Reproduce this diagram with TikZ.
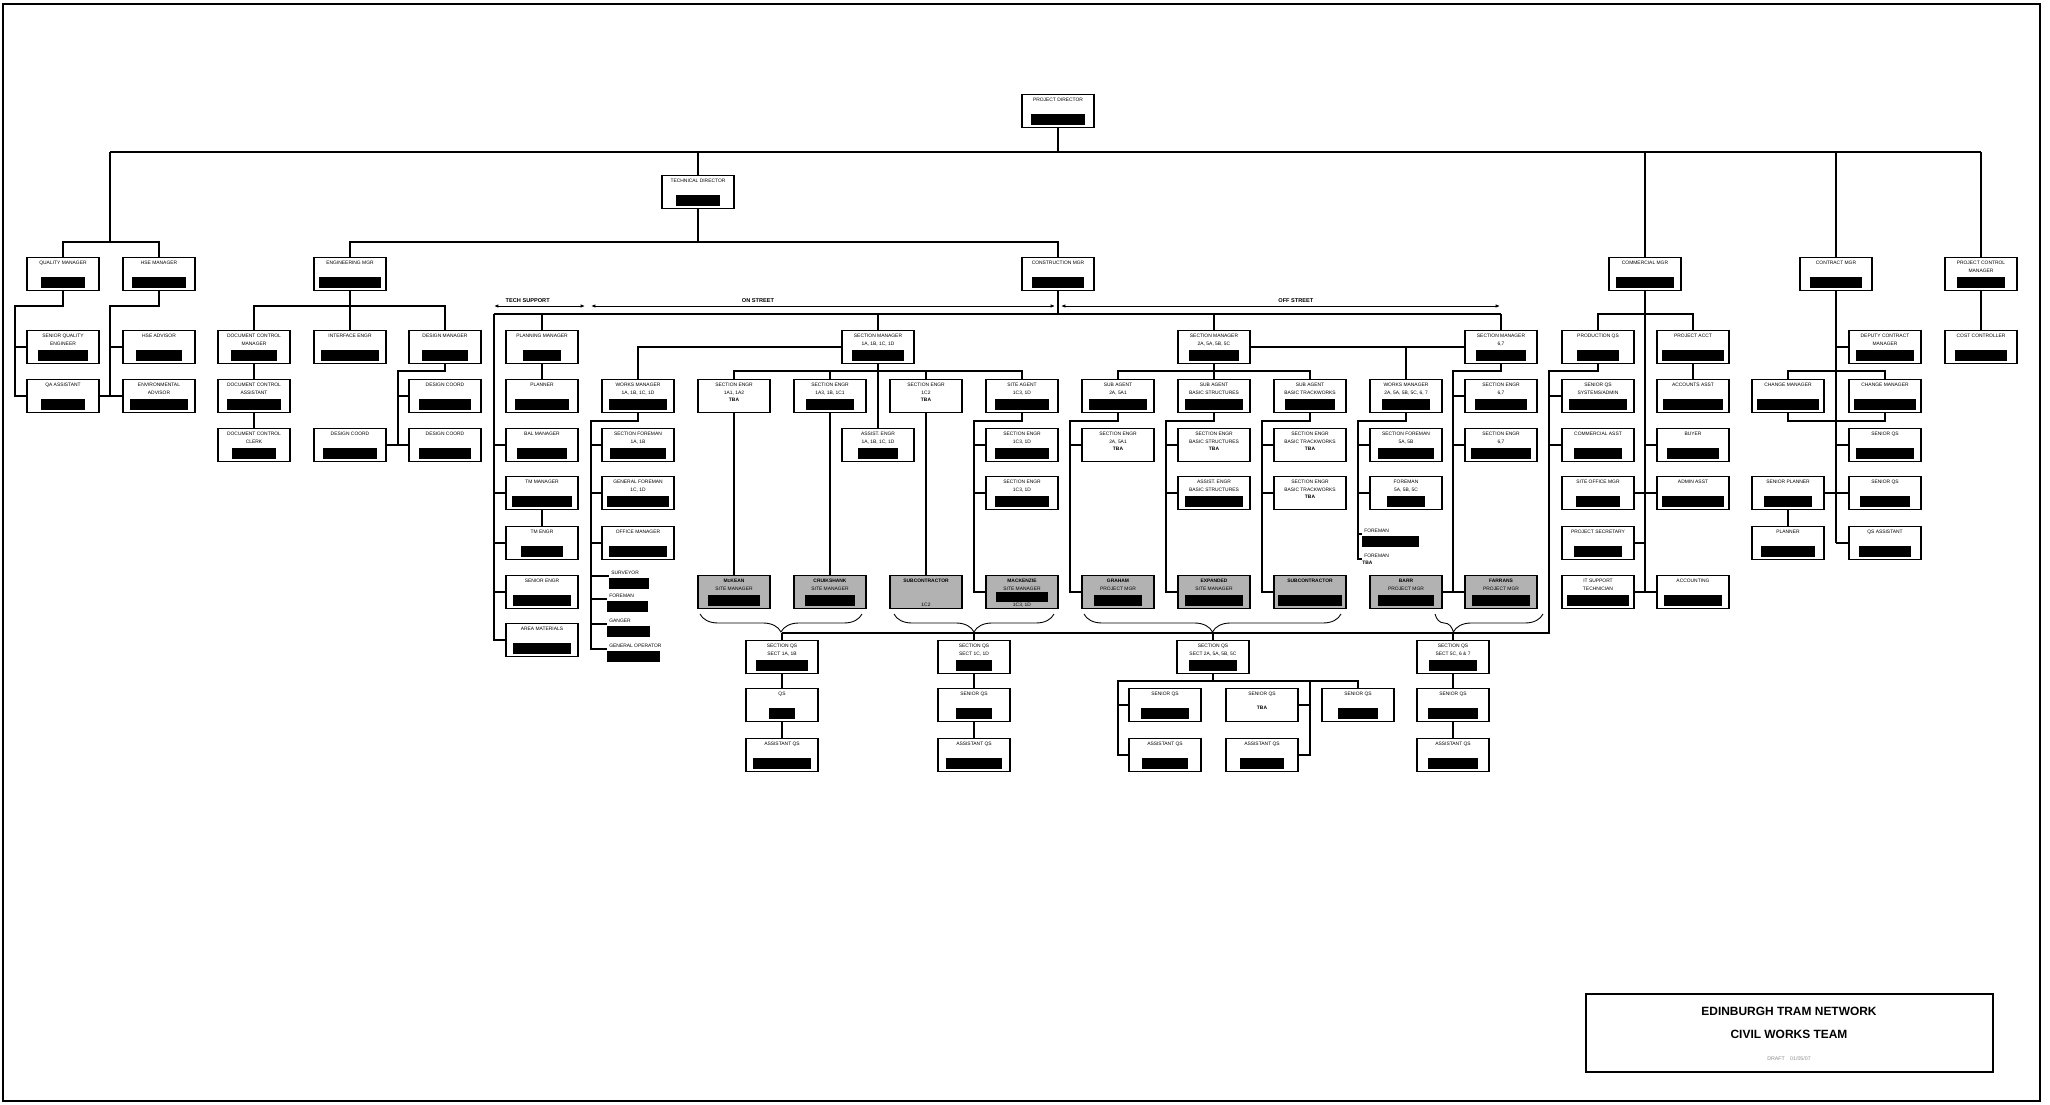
\documentclass[tikz,border=0pt]{standalone}
\usepackage{fontspec}
\setmainfont{Liberation Sans}
\usetikzlibrary{arrows.meta,decorations.pathreplacing}

\tikzset{
  postbox/.style={draw,line width=1pt,minimum width=1.44cm,minimum height=0.66cm,inner sep=0pt},
  firm/.style={postbox,fill=black!30},
  txt/.style={font=\fontsize{2.8}{4.4}\selectfont,align=center,inner sep=0pt},
  wire/.style={line width=0.6pt},
  spanarr/.style={line width=0.5pt,{Latex[length=2.5pt,width=2pt]}-{Latex[length=2.5pt,width=2pt]}},
  zonelbl/.style={font=\bfseries\fontsize{3.2}{4}\selectfont,inner sep=0pt,anchor=south,yshift=0.07cm},
  brc/.style={line width=0.5pt,decorate,decoration={brace,mirror,amplitude=0.36cm}},
}

% box: title at the top, black bar near the bottom (bar width in px, empty = none)
\newcommand{\role}[5][postbox]{%
  \node[#1] (#2) at (#3) {};
  \node[txt,anchor=north] (#2-t) at ([yshift=-0.08cm]#2.north) {#4};
  \ifx&#5&\else
    \fill ([xshift=-#5*0.01cm,yshift=0.06cm]#2.south) rectangle ([xshift=#5*0.01cm,yshift=0.28cm]#2.south);
  \fi}
% crew without a box: line ends at the coordinate, title above, bar below
\newcommand{\crew}[4]{%
  \coordinate (#1) at (#2);
  \node[txt,anchor=south west] (#1-t) at ([xshift=0.04cm,yshift=0.02cm]#1) {#3};
  \fill ([yshift=-0.03cm]#1) rectangle ++(#4,11);}

\begin{document}
\begin{tikzpicture}[x=0.02cm,y=-0.02cm]
\useasboundingbox (0,0) rectangle (2050,1105);
\draw[line width=1pt] (3,4) rectangle (2040,1101);

% directors and managers
\role{pd}{1058,111}{PROJECT DIRECTOR}{54}
\role{td}{698,192}{TECHNICAL DIRECTOR}{45}
\role{qm}{63,274}{QUALITY MANAGER}{44}
\role{hs}{159,274}{HSE MANAGER}{54}
\role{em}{350,274}{ENGINEERING MGR}{63}
\role{cm}{1058,274}{CONSTRUCTION MGR}{52}
\role{com}{1645,274}{COMMERCIAL MGR}{58}
\role{con}{1836,274}{CONTRACT MGR}{52}
\role{pcm}{1981,274}{PROJECT CONTROL\\MANAGER}{48}

% quality, safety
\role{sqe}{63,347}{SENIOR QUALITY\\ENGINEER}{51}
\role{qaa}{63,396}{QA ASSISTANT}{44}
\role{hsa}{159,347}{HSE ADVISOR}{47}
\role{env}{159,396}{ENVIRONMENTAL\\ADVISOR}{59}

% engineering
\role{dcm}{254,347}{DOCUMENT CONTROL\\MANAGER}{47}
\role{dca}{254,396}{DOCUMENT CONTROL\\ASSISTANT}{54}
\role{dcc}{254,445}{DOCUMENT CONTROL\\CLERK}{44}
\role{ie}{350,347}{INTERFACE ENGR}{58}
\role{dm}{445,347}{DESIGN MANAGER}{47}
\role{dc1}{445,396}{DESIGN COORD}{53}
\role{dc2}{445,445}{DESIGN COORD}{52}
\role{dc3}{350,445}{DESIGN COORD}{54}

% tech support
\role{plm}{542,347}{PLANNING MANAGER}{39}
\role{pln}{542,396}{PLANNER}{54}
\role{bal}{542,445}{BAL MANAGER}{51}
\role{tmm}{542,493}{TM MANAGER}{61}
\role{tme}{542,543}{TM ENGR}{43}
\role{sen}{542,592}{SENIOR ENGR}{58}
\role{arm}{542,640}{AREA MATERIALS}{58}

% on street
\role{smon}{878,347}{SECTION MANAGER\\1A, 1B, 1C, 1D}{53}
\role{wm}{638,396}{WORKS MANAGER\\1A, 1B, 1C, 1D}{58}
\role{sf}{638,445}{SECTION FOREMAN\\1A, 1B}{57}
\role{gf}{638,493}{GENERAL FOREMAN\\1C, 1D}{62}
\role{om}{638,543}{OFFICE MANAGER}{59}
\crew{sv}{609,576}{SURVEYOR}{40}
\crew{fo}{607,599}{FOREMAN}{41}
\crew{gg}{607,624}{GANGER}{43}
\crew{go}{607,649}{GENERAL OPERATOR}{53}
\role{se1}{734,396}{SECTION ENGR\\1A1, 1A2\\\textbf{TBA}}{}
\role{se2}{830,396}{SECTION ENGR\\1A3, 1B, 1C1}{49}
\role{se3}{926,396}{SECTION ENGR\\1C2\\\textbf{TBA}}{}
\role{sa}{1022,396}{SITE AGENT\\1C3, 1D}{55}
\role{ae}{878,445}{ASSIST. ENGR\\1A, 1B, 1C, 1D}{40}
\role{se4}{1022,445}{SECTION ENGR\\1C3, 1D}{55}
\role{se5}{1022,493}{SECTION ENGR\\1C3, 1D}{55}
\role[firm]{mck}{734,592}{\textbf{McKEAN}\\SITE MANAGER}{52}
\role[firm]{cru}{830,592}{\textbf{CRUIKSHANK}\\SITE MANAGER}{50}
\role[firm]{sub1}{926,592}{\textbf{SUBCONTRACTOR}}{}
\node[txt,anchor=south] (sub1-n) at ([yshift=0.05cm]sub1.south) {1C2};
\role[firm]{mac}{1022,592}{\textbf{MACKENZIE}\\SITE MANAGER}{}
\fill ([xshift=-0.52cm,yshift=0.15cm]mac.south) rectangle ([xshift=0.52cm,yshift=0.34cm]mac.south);
\node[txt,anchor=south] (mac-n) at ([yshift=0.04cm]mac.south) {1C3, 1D};

% off street
\role{smoff}{1214,347}{SECTION MANAGER\\2A, 5A, 5B, 5C}{50}
\role{sm67}{1501,347}{SECTION MANAGER\\6,7}{50}
\role{sa1}{1118,396}{SUB AGENT\\2A, 5A1}{58}
\role{sa2}{1214,396}{SUB AGENT\\BASIC STRUCTURES}{59}
\role{sa3}{1310,396}{SUB AGENT\\BASIC TRACKWORKS}{51}
\role{wm2}{1406,396}{WORKS MANAGER\\2A, 5A, 5B, 5C, 6, 7}{49}
\role{se10}{1501,396}{SECTION ENGR\\6,7}{52}
\role{se6}{1118,445}{SECTION ENGR\\2A, 5A1\\\textbf{TBA}}{}
\role{se7}{1214,445}{SECTION ENGR\\BASIC STRUCTURES\\\textbf{TBA}}{}
\role{ae2}{1214,493}{ASSIST. ENGR\\BASIC STRUCTURES}{59}
\role{se8}{1310,445}{SECTION ENGR\\BASIC TRACKWORKS\\\textbf{TBA}}{}
\role{se9}{1310,493}{SECTION ENGR\\BASIC TRACKWORKS\\\textbf{TBA}}{}
\role{sf2}{1406,445}{SECTION FOREMAN\\5A, 5B}{56}
\role{fm2}{1406,493}{FOREMAN\\5A, 5B, 5C}{38}
\crew{fo1}{1362,534}{FOREMAN}{57}
\coordinate (fo2) at (1362,559);
\node[txt,anchor=south west] (fo2-t) at ([xshift=0.04cm,yshift=0.02cm]fo2) {FOREMAN};
\node[txt,anchor=north west] (fo2-n) at ([yshift=-0.04cm]fo2) {\textbf{TBA}};
\role{se11}{1501,445}{SECTION ENGR\\6,7}{60}
\role[firm]{gra}{1118,592}{\textbf{GRAHAM}\\PROJECT MGR}{48}
\role[firm]{exp}{1214,592}{\textbf{EXPANDED}\\SITE MANAGER}{59}
\role[firm]{sub2}{1310,592}{\textbf{SUBCONTRACTOR}}{65}
\role[firm]{barr}{1406,592}{\textbf{BARR}\\PROJECT MGR}{57}
\role[firm]{far}{1501,592}{\textbf{FARRANS}\\PROJECT MGR}{58}

% commercial
\role{pqs}{1598,347}{PRODUCTION QS}{42}
\role{pac}{1693,347}{PROJECT ACCT}{63}
\role{sqs}{1598,396}{SENIOR QS\\SYSTEMS/ADMIN}{58}
\role{aas}{1693,396}{ACCOUNTS ASST}{60}
\role{cas}{1598,445}{COMMERCIAL ASST}{48}
\role{buy}{1693,445}{BUYER}{52}
\role{som}{1598,493}{SITE OFFICE MGR}{44}
\role{adm}{1693,493}{ADMIN ASST}{63}
\role{pse}{1598,543}{PROJECT SECRETARY}{49}
\role{its}{1598,592}{IT SUPPORT\\TECHNICIAN}{63}
\role{qsu}{1693,592}{ACCOUNTING}{59}

% contract, controls
\role{dcm2}{1885,347}{DEPUTY CONTRACT\\MANAGER}{58}
\role{chm1}{1788,396}{CHANGE MANAGER}{62}
\role{chm2}{1885,396}{CHANGE MANAGER}{63}
\role{sqs2}{1885,445}{SENIOR QS}{58}
\role{spl}{1788,493}{SENIOR PLANNER}{48}
\role{sqs3}{1885,493}{SENIOR QS}{50}
\role{pln2}{1788,543}{PLANNER}{55}
\role{qsa}{1885,543}{QS ASSISTANT}{53}
\role{cc}{1981,347}{COST CONTROLLER}{53}

% section QS
\role{qs1}{782,657}{SECTION QS\\SECT 1A, 1B}{53}
\role{qs1b}{782,705}{QS}{27}
\role{qs1c}{782,755}{ASSISTANT QS}{58}
\role{qs2}{974,657}{SECTION QS\\SECT 1C, 1D}{36}
\role{qs2b}{974,705}{SENIOR QS}{37}
\role{qs2c}{974,755}{ASSISTANT QS}{56}
\role{qs3}{1213,657}{SECTION QS\\SECT 2A, 5A, 5B, 5C}{49}
\role{sq3a}{1165,705}{SENIOR QS}{48}
\role{sq3b}{1262,705}{SENIOR QS\\[0.12cm]\textbf{TBA}}{}
\role{sq3c}{1358,705}{SENIOR QS}{41}
\role{aq3a}{1165,755}{ASSISTANT QS}{46}
\role{aq3b}{1262,755}{ASSISTANT QS}{45}
\role{qs4}{1453,657}{SECTION QS\\SECT 5C, 6 \& 7}{49}
\role{qs4b}{1453,705}{SENIOR QS}{51}
\role{qs4c}{1453,755}{ASSISTANT QS}{51}

% top lines
\coordinate (t0) at (110,152); \coordinate (t1) at (1981,152);
\coordinate (tq) at (110,242); \coordinate (tb) at (698,242);
\draw[wire] (t0) -- (t1);
\foreach \n in {pd,td,com,con,pcm} \draw[wire] (\n) -- (\n |- t0);
\draw[wire] (t0) -- (tq);
\draw[wire] (qm) |- (tq) -| (hs);
\draw[wire] (td) -- (tb);
\draw[wire] (em) |- (tb) -| (cm);

% quality and safety
\coordinate (kq) at (15,306); \coordinate (kh) at (110,306);
\draw[wire] (qm) |- (kq) |- (qaa);
\draw[wire] (sqe -| kq) -- (sqe);
\draw[wire] (hs) |- (kh) |- (env);
\draw[wire] (hsa -| kh) -- (hsa);
\draw[wire] (qaa) -- (qaa -| kh);

% engineering
\coordinate (ke) at (350,306); \coordinate (kd) at (398,371);
\draw[wire] (dcm) |- (ke) -| (dm);
\draw[wire] (em) -- (ie);
\draw[wire] (dcm) -- (dca) -- (dcc);
\draw[wire] (dm) |- (kd) |- (dc2);
\draw[wire] (dc1 -| kd) -- (dc1);
\draw[wire] (dc3) -- (dc3 -| kd);

% construction
\coordinate (c0) at (494,314); \coordinate (c1) at (1501,314);
\draw[wire] (cm) -- (cm |- c0);
\draw[wire] (c0) -- (c1);
\foreach \n in {plm,smon,smoff,sm67} \draw[wire] (\n) -- (\n |- c0);
\draw[wire] (c0) |- (arm);
\foreach \n in {bal,tmm,tme,sen} \draw[wire] (\n -| c0) -- (\n);
\draw[wire] (plm) -- (pln);
\draw[wire] (tmm) -- (tme);
\draw[spanarr] (494,306) -- node[zonelbl,pos=0.37] (zts) {TECH SUPPORT} (585,306);
\draw[spanarr] (591,306) -- node[zonelbl,pos=0.36] (zon) {ON STREET} (1055,306);
\draw[spanarr] (1061,306) -- node[zonelbl,pos=0.535] (zoff) {OFF STREET} (1500,306);

% on street
\coordinate (kw) at (591,421); \coordinate (ks) at (878,371); \coordinate (ka) at (974,421);
\draw[wire] (smon) -| (wm);
\draw[wire] (wm) |- (kw) |- (go);
\foreach \n in {sf,gf,om,sv,fo,gg} \draw[wire] (\n -| kw) -- (\n);
\draw[wire] (smon) -- (ae);
\draw[wire] (se1) |- (ks) -| (sa);
\draw[wire] (se2) -- (se2 |- ks);
\draw[wire] (se3) -- (se3 |- ks);
\draw[wire] (se1) -- (mck);
\draw[wire] (se2) -- (cru);
\draw[wire] (se3) -- (sub1);
\draw[wire] (sa) |- (ka) |- (mac);
\foreach \n in {se4,se5} \draw[wire] (\n -| ka) -- (\n);

% off street
\coordinate (ko) at (1214,371);
\coordinate (k1) at (1070,421); \coordinate (k2) at (1166,421);
\coordinate (k3) at (1262,421); \coordinate (k4) at (1358,421);
\coordinate (k5) at (1453,371);
\draw[wire] (smoff) -- (sm67);
\draw[wire] (wm2) -- (wm2 |- smoff);
\draw[wire] (sa1) |- (ko) -| (sa3);
\draw[wire] (smoff) -- (sa2);
\draw[wire] (sa1) |- (k1) |- (gra);
\draw[wire] (se6 -| k1) -- (se6);
\draw[wire] (sa2) |- (k2) |- (exp);
\foreach \n in {se7,ae2} \draw[wire] (\n -| k2) -- (\n);
\draw[wire] (sa3) |- (k3) |- (sub2);
\foreach \n in {se8,se9} \draw[wire] (\n -| k3) -- (\n);
\draw[wire] (wm2) |- (k4) |- (fo2);
\foreach \n in {sf2,fm2,fo1} \draw[wire] (\n -| k4) -- (\n);
\draw[wire] (sm67) |- (k5) |- (far);
\foreach \n in {se10,se11} \draw[wire] (\n -| k5) -- (\n);
\draw[wire] (barr) -- (barr -| k5);

% commercial
\coordinate (kc) at (1645,314); \coordinate (kp) at (1549,371);
\coordinate (qb0) at (782,633);
\draw[wire] (com) -- (com |- its);
\draw[wire] (pqs) |- (kc) -| (pac);
\draw[wire] (pac) -- (aas);
\draw[wire] (pqs) |- (kp) |- (qb0);
\foreach \n in {sqs,cas} \draw[wire] (\n -| kp) -- (\n);
\draw[wire] (buy) -- (buy -| com);
\draw[wire] (som) -- (adm);
\draw[wire] (pse) -- (pse -| com);
\draw[wire] (its) -- (qsu);

% contract and controls
\coordinate (kt) at (1836,371); \coordinate (kb) at (1836,421);
\draw[wire] (con) -- (con |- qsa);
\draw[wire] (dcm2) -- (dcm2 -| con);
\draw[wire] (chm1) |- (kt) -| (chm2);
\draw[wire] (chm1) |- (kb) -| (chm2);
\draw[wire] (sqs2) -- (sqs2 -| con);
\draw[wire] (spl) -- (sqs3);
\draw[wire] (qsa) -- (qsa -| con);
\draw[wire] (spl) -- (pln2);
\draw[wire] (pcm) -- (cc);

% section QS
\foreach \n in {qs1,qs2,qs3,qs4} \draw[wire] (\n) -- (\n |- qb0);
\draw[brc] (700,614) -- (862,614);
\draw[brc] (894,614) -- (1054,614);
\draw[brc] (1084,614) -- (1341,614);
\draw[brc,decoration={aspect=0.17}] (1435,614) -- (1543,614);
\draw[wire] (qs1) -- (qs1b) -- (qs1c);
\draw[wire] (qs2) -- (qs2b) -- (qs2c);
\draw[wire] (qs4) -- (qs4b) -- (qs4c);
\coordinate (kx) at (1213,681); \coordinate (kl) at (1118,681); \coordinate (kr) at (1310,681);
\draw[wire] (qs3) -- (kx);
\draw[wire] (aq3a) -| (kl) -- (kl -| sq3c) -- (sq3c);
\draw[wire] (sq3a) -- (sq3a -| kl);
\draw[wire] (aq3b) -| (kr);
\draw[wire] (sq3b) -- (sq3b -| kr);

% title
\node[draw,line width=0.8pt,minimum width=8.14cm,minimum height=1.56cm] (title) at (1789.5,1033) {};
\node[font=\bfseries\fontsize{6.8}{8}\selectfont] (tl1) at (1789,1011) {EDINBURGH TRAM NETWORK};
\node[font=\bfseries\fontsize{6.8}{8}\selectfont] (tl2) at (1789,1034) {CIVIL WORKS TEAM};
\node[font=\fontsize{3}{4}\selectfont,text=black!45] (tl3) at (1789,1059) {DRAFT\quad 01/05/07};
\end{tikzpicture}
\end{document}
